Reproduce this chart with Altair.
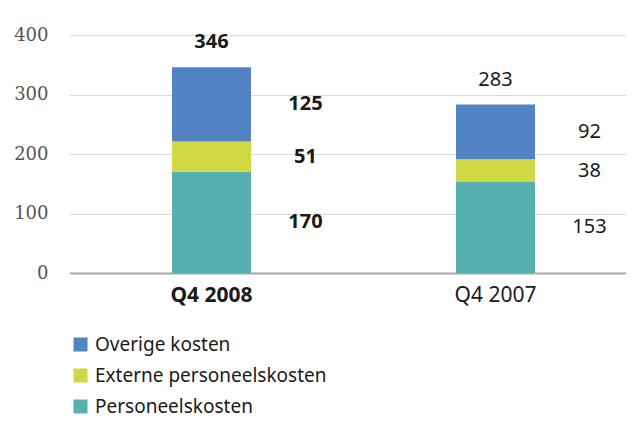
import altair as alt
import pandas as pd

categories = ["Q4 2008", "Q4 2007"]
series = ["Personeelskosten", "Externe personeelskosten", "Overige kosten"]
personeelskosten = [170, 153]
externe = [51, 38]
overige = [125, 92]
totals = [346, 283]
legend_order = ["Overige kosten", "Externe personeelskosten", "Personeelskosten"]
colors = ["#5283c3", "#d0d843", "#58afb0"]
y_ticks = [0, 100, 200, 300, 400]

rows = []
for i, c in enumerate(categories):
    for j, (s, vals) in enumerate(zip(series, [personeelskosten, externe, overige])):
        rows.append({"cat": c, "series": s, "value": vals[i], "idx": j})
df = pd.DataFrame(rows)
tot = pd.DataFrame({"cat": categories, "total": totals})

FONT = "Noto Sans"

x_scale = alt.Scale(domain=categories, range=[1.5, 569.5], paddingInner=0, paddingOuter=0)
x_axis = alt.Axis(
    title=None,
    labelAngle=0,
    ticks=False,
    domainColor="#a6a6a6",
    domainWidth=2,
    labelPadding=11,
    labelFont=FONT,
    labelFontSize=21,
    labelColor="#1a1a1a",
    labelFontWeight={"condition": {"test": "datum.value == 'Q4 2008'", "value": "bold"}, "value": "normal"},
    grid=False,
)
y_scale = alt.Scale(domain=[0, 400], nice=False)
y_axis = alt.Axis(
    title=None,
    values=y_ticks,
    grid=True,
    gridColor="#d9d9d9",
    gridWidth=1,
    domain=False,
    ticks=False,
    labelPadding=20,
    labelFont="DejaVu Serif",
    labelFontSize=18,
    labelColor="#555555",
)

stacked = alt.Chart(df).transform_stack(
    stack="value", groupby=["cat"], as_=["y0", "y1"], sort=[alt.SortField("idx", order="ascending")]
).transform_calculate(mid="(datum.y0 + datum.y1) / 2")

bars = stacked.mark_bar(size=79).encode(
    x=alt.X("cat:N", sort=categories, scale=x_scale, axis=x_axis),
    y=alt.Y("y0:Q", scale=y_scale, axis=y_axis),
    y2="y1:Q",
    color=alt.Color(
        "series:N",
        scale=alt.Scale(domain=legend_order, range=colors),
        legend=alt.Legend(
            title=None,
            orient="none",
            legendX=3,
            legendY=300,
            symbolType="square",
            symbolSize=196,
            symbolStrokeWidth=0,
            labelFont=FONT,
            labelFontSize=19,
            labelColor="#1a1a1a",
            labelOffset=5,
            labelLimit=400,
            rowPadding=11,
        ),
    ),
)

def seg_labels(cat, weight):
    return stacked.transform_filter(alt.datum.cat == cat).mark_text(
        dx=94, font=FONT, fontSize=20, fontWeight=weight, color="#1a1a1a", baseline="middle"
    ).encode(
        x=alt.X("cat:N", sort=categories, scale=x_scale, axis=x_axis),
        y=alt.Y("mid:Q", scale=y_scale, axis=y_axis),
        text="value:Q",
    )

def tot_label(cat, weight):
    return alt.Chart(tot).transform_filter(alt.datum.cat == cat).mark_text(
        dy=-25, font=FONT, fontSize=20, fontWeight=weight, color="#1a1a1a", baseline="middle"
    ).encode(
        x=alt.X("cat:N", sort=categories, scale=x_scale, axis=x_axis),
        y=alt.Y("total:Q", scale=y_scale, axis=y_axis),
        text="total:Q",
    )

chart = alt.layer(
    bars,
    seg_labels("Q4 2008", "bold"),
    seg_labels("Q4 2007", "normal"),
    tot_label("Q4 2008", "bold"),
    tot_label("Q4 2007", "normal"),
).properties(
    width=558,
    height=238,
    autosize=alt.AutoSizeParams(type="none"),
    padding={"left": 60, "top": 27, "right": 0, "bottom": 144},
    background="white",
).configure_view(stroke=None)

chart.save("out.html", embed_options={"renderer": "svg", "actions": False})
